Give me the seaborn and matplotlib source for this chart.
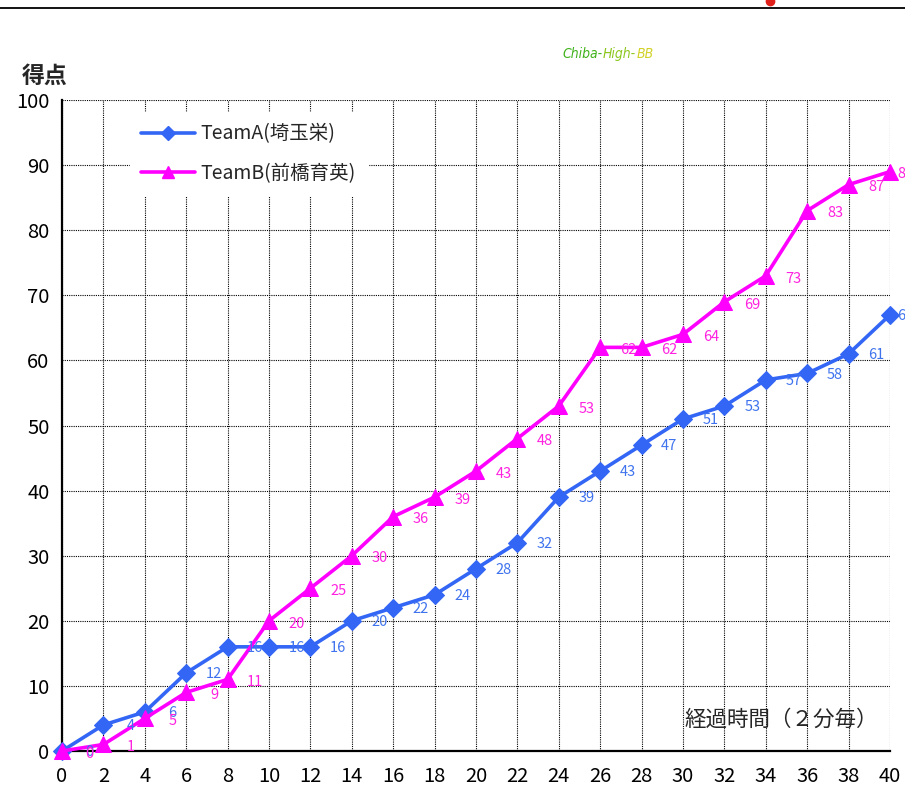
import matplotlib
matplotlib.use("Agg")
import matplotlib.pyplot as plt
import matplotlib.lines as mlines
import seaborn as sns
import pandas as pd

# Score progression, sampled every 2 minutes
minutes = list(range(0, 41, 2))
team_a_scores = [0, 4, 6, 12, 16, 16, 16, 20, 22, 24, 28, 32, 39, 43, 47, 51, 53, 57, 58, 61, 67]
team_b_scores = [0, 1, 5, 9, 11, 20, 25, 30, 36, 39, 43, 48, 53, 62, 62, 64, 69, 73, 83, 87, 89]
team_a_name = "TeamA(埼玉栄)"
team_b_name = "TeamB(前橋育英)"
x_ticks = list(range(0, 41, 2))
y_ticks = list(range(0, 101, 10))

sns.set_theme(style="white")
plt.rcParams["font.family"] = ["Noto Sans CJK JP", "DejaVu Sans"]

color_a = "#3366F5"
color_b = "#FF00FF"
label_a = "#3F73EE"
label_b = "#FF22E0"

df = pd.DataFrame({
    "minute": minutes * 2,
    "score": team_a_scores + team_b_scores,
    "team": [team_a_name] * len(minutes) + [team_b_name] * len(minutes),
})

fig = plt.figure(figsize=(9.05, 8.02), dpi=100)
ax = fig.add_axes([0.0685, 0.0636, 0.9149, 0.8117])

sns.lineplot(data=df[df.team == team_a_name], x="minute", y="score", ax=ax,
             color=color_a, linewidth=2.6, marker="D", markersize=9,
             markeredgecolor=color_a, clip_on=False, zorder=4, legend=False)
sns.lineplot(data=df[df.team == team_b_name], x="minute", y="score", ax=ax,
             color=color_b, linewidth=2.6, marker="^", markersize=11,
             markeredgecolor=color_b, clip_on=False, zorder=5, legend=False)


def label_dx(xv):
    # the last label is pulled in against the right edge
    return 11 if xv == minutes[-1] else 20


# value labels to the right of each point
for xv, yv in zip(minutes, team_a_scores):
    ax.annotate(str(yv), (xv, yv), xytext=(label_dx(xv), -1),
                textcoords="offset points", ha="center", va="center",
                fontsize=10.5, color=label_a, annotation_clip=False, zorder=6)
for xv, yv in zip(minutes, team_b_scores):
    ax.annotate(str(yv), (xv, yv), xytext=(label_dx(xv), -2),
                textcoords="offset points", ha="center", va="center",
                fontsize=10.5, color=label_b, annotation_clip=False, zorder=6)

ax.set_xlim(0, 40)
ax.set_ylim(0, 100)
ax.set_xticks(x_ticks)
ax.set_yticks(y_ticks)
ax.set_xlabel("")
ax.set_ylabel("")
ax.tick_params(axis="both", labelsize=14.5, colors="black", length=0)
ax.tick_params(axis="x", pad=11)
ax.tick_params(axis="y", pad=9)
ax.grid(True, color="black", linestyle=(0, (1, 1)), linewidth=0.8, zorder=0)
ax.set_axisbelow(True)
for side in ["top", "right"]:
    ax.spines[side].set_visible(False)
for side in ["left", "bottom"]:
    ax.spines[side].set_color("black")
    ax.spines[side].set_linewidth(1.6)
    ax.spines[side].set_zorder(3)

handles = [
    mlines.Line2D([], [], color=color_a, linewidth=2.6, marker="D", markersize=7),
    mlines.Line2D([], [], color=color_b, linewidth=2.6, marker="^", markersize=9),
]
leg = ax.legend(handles, [team_a_name, team_b_name], loc="upper left",
                bbox_to_anchor=(0.07, 0.997), fontsize=14, frameon=True,
                handlelength=2.75, labelspacing=0.95, borderpad=0.6,
                handletextpad=0.3)
leg.get_frame().set_facecolor("white")
leg.get_frame().set_edgecolor("white")
leg.get_frame().set_alpha(1)

# axis titles
fig.text(0.0243, 0.905, "得点", fontsize=16.5, fontweight="bold", ha="left", va="center")
ax.text(0.985, 0.048, "経過時間（２分毎）", transform=ax.transAxes, fontsize=15.5,
        ha="right", va="center", zorder=7)

# header rule and site mark
fig.add_artist(mlines.Line2D([0, 1], [0.99, 0.99], color="black", linewidth=1.3))
fig.add_artist(mlines.Line2D([0.851], [0.999], marker="o", markersize=6,
                             color="#E0201A", markeredgecolor="#E0201A"))

# site logo, shaded from green to yellow
logo_font = dict(fontsize=10, style="italic", va="center", fontstretch="condensed",
                 family=["DejaVu Sans", "Noto Sans"])
logo_parts = [("Chiba-", "#3FB21A"), ("High-", "#8CC61C"), ("BB", "#D2D22A")]
prev = fig.text(0.622, 0.933, logo_parts[0][0], color=logo_parts[0][1],
                ha="left", **logo_font)
for part, col in logo_parts[1:]:
    prev = ax.annotate(part, xy=(1, 0.5), xycoords=prev, ha="left",
                       color=col, annotation_clip=False, **logo_font)

fig.savefig("out.png", dpi=100, facecolor="white")
